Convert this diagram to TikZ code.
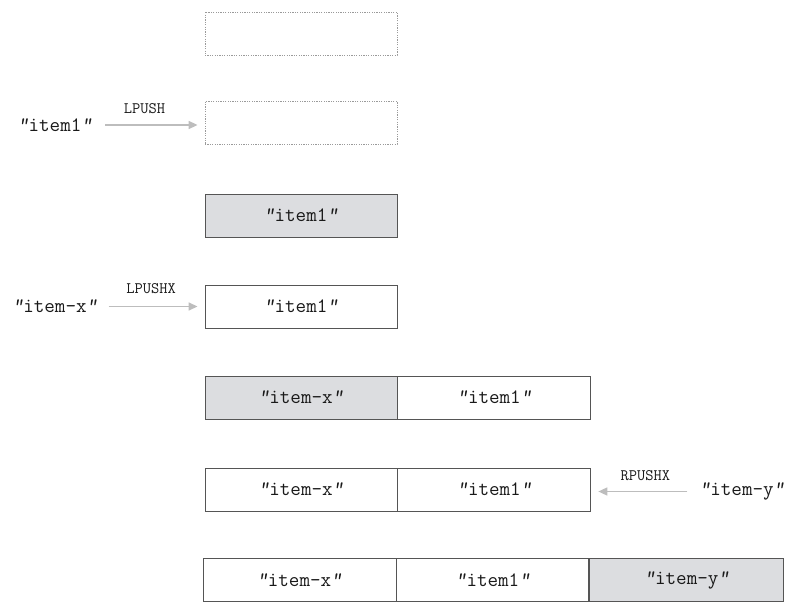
\documentclass[tikz,border=0pt]{standalone}
\usepackage{fontspec}
\usetikzlibrary{arrows.meta}
\definecolor{cellfill}{HTML}{DCDDE0}
\definecolor{cellline}{HTML}{555555}
\definecolor{arrowgray}{HTML}{BDBDBD}
\definecolor{dashgray}{HTML}{9A9A9A}
\newcommand{\qq}[1]{\textsl{"}#1\textsl{"}}
\tikzset{
  cell/.style={draw=cellline, line width=0.9pt, minimum height=43pt, inner sep=0pt,
    font=\ttfamily\fontsize{20.5}{23}\selectfont, text=black!90},
  newcell/.style={cell, fill=cellfill},
  emptycell/.style={draw=dashgray, line width=0.8pt, dash pattern=on 1.2pt off 1.2pt,
    minimum height=43pt, minimum width=192pt, inner sep=0pt},
  src/.style={font=\ttfamily\fontsize{20.5}{23}\selectfont, text=black!90, inner sep=0pt},
  pusharrow/.style={draw=arrowgray, line width=1.6pt, -{Triangle[length=9pt,width=8pt]}},
  lbl/.style={font=\ttfamily\fontsize{16}{18}\selectfont, text=black!90, inner sep=0pt}
}
\begin{document}
\begin{tikzpicture}[x=1pt,y=-1pt]
\useasboundingbox (0,0) rectangle (798,615);
% step 1 / 2 : empty lists
\node[emptycell] (e1) at (301,33.5) {};
\node[emptycell] (e2) at (301,123) {};
\node[src] (s1) at (55,125) {\qq{item1}};
\draw[pusharrow, shorten <=13pt, shorten >=7pt] (s1.east) -- (s1.east -| e2.west)
  node[lbl, midway, above=11pt, xshift=-4pt] (l1) {LPUSH};
% step 3
\node[newcell, minimum width=192pt] (c3) at (301,215.5) {\qq{item1}};
% step 4
\node[cell, minimum width=192pt] (c4) at (301,306.5) {\qq{item1}};
\node[src] (s2) at (55,306.5) {\qq{item-x}};
\draw[pusharrow, shorten <=11pt, shorten >=7pt] (s2.east) -- (s2.east -| c4.west)
  node[lbl, midway, above=12pt] (l2) {LPUSHX};
% step 5
\node[newcell, minimum width=192pt] (c5a) at (301,397.5) {\qq{item-x}};
\node[cell, minimum width=193pt, anchor=west] (c5b) at (c5a.east) {\qq{item1}};
% step 6
\node[cell, minimum width=192pt] (c6a) at (301,489.5) {\qq{item-x}};
\node[cell, minimum width=193pt, anchor=west] (c6b) at (c6a.east) {\qq{item1}};
\node[src] (s3) at (742,491.5) {\qq{item-y}};
\draw[pusharrow, shorten <=12pt, shorten >=7pt] (s3.west) -- (s3.west -| c6b.east)
  node[lbl, midway, above=10pt] (l3) {RPUSHX};
% step 7
\node[cell, minimum width=193pt] (c7a) at (299.5,580) {\qq{item-x}};
\node[cell, minimum width=192pt, anchor=west] (c7b) at (c7a.east) {\qq{item1}};
\node[newcell, minimum width=194pt, anchor=west] (c7c) at (c7b.east) {\qq{item-y}};
\end{tikzpicture}
\end{document}
